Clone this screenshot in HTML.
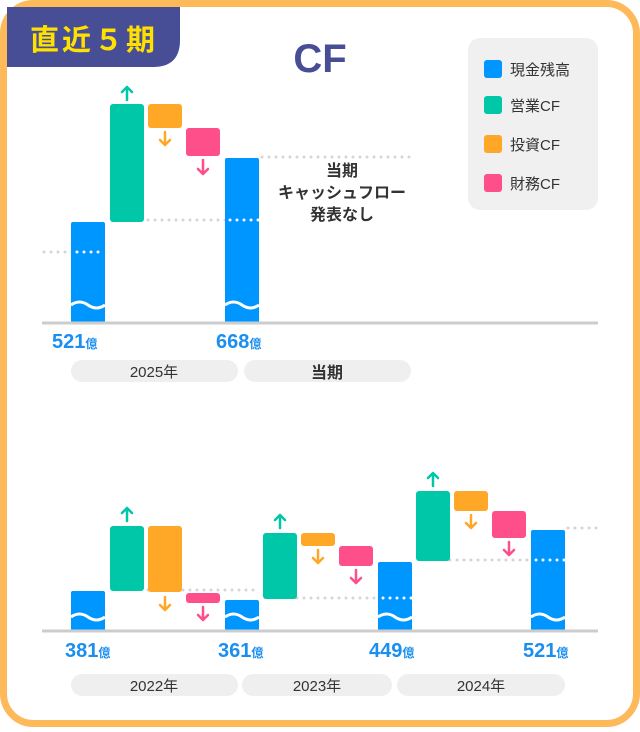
<!DOCTYPE html>
<html><head><meta charset="utf-8"><style>
body{margin:0;background:#fff;}
svg text{font-family:"Liberation Sans","Noto Sans CJK JP",sans-serif;}
</style></head><body>
<svg width="640" height="727" viewBox="0 0 640 727" xmlns="http://www.w3.org/2000/svg">
<rect x="3.5" y="3.5" width="633" height="720" rx="30" fill="#fff" stroke="#FDB95A" stroke-width="7"/>
<path d="M7 7 H180 V40 Q180 67 153 67 H7 Z" fill="#474E95"/>
<path d="M7 37 Q7 7 37 7 H40 V67 H7 Z" fill="#474E95"/>
<text x="94" y="50" text-anchor="middle" font-size="29" font-weight="bold" fill="#FFE000" letter-spacing="3">直近５期</text>
<text x="320" y="72" text-anchor="middle" font-size="40" font-weight="bold" fill="#474E95">CF</text>
<rect x="468" y="38" width="130" height="172" rx="12" fill="#f0f0f0"/>
<g font-size="15" fill="#333">
<rect x="484" y="60" width="18" height="18" rx="3" fill="#0096FF"/><text x="510" y="75">現金残高</text>
<rect x="484" y="96" width="18" height="18" rx="3" fill="#00C7A8"/><text x="510" y="111">営業CF</text>
<rect x="484" y="135" width="18" height="18" rx="3" fill="#FFA726"/><text x="510" y="150">投資CF</text>
<rect x="484" y="174" width="18" height="18" rx="3" fill="#FF4F8B"/><text x="510" y="189">財務CF</text>
</g>
<g stroke="#d6d6d6" stroke-width="3" stroke-linecap="round" stroke-dasharray="0 7" fill="none">
<line x1="44" y1="252" x2="105" y2="252"/>
<line x1="148" y1="220" x2="259" y2="220"/>
<line x1="262" y1="157" x2="412" y2="157"/>
<line x1="148" y1="590" x2="259" y2="590"/>
<line x1="297" y1="598" x2="412" y2="598"/>
<line x1="450" y1="560" x2="565" y2="560"/>
<line x1="568" y1="528" x2="598" y2="528"/>
</g>
<g>
<rect x="71" y="222" width="34" height="101" rx="2" fill="#0096FF"/>
<rect x="110" y="104" width="34" height="118" rx="3" fill="#00C7A8"/>
<rect x="148" y="104" width="34" height="24" rx="3" fill="#FFA726"/>
<rect x="186" y="128" width="34" height="28" rx="3" fill="#FF4F8B"/>
<rect x="225" y="158" width="34" height="165" rx="2" fill="#0096FF"/>
<rect x="71" y="591" width="34" height="40" rx="2" fill="#0096FF"/>
<rect x="110" y="526" width="34" height="65" rx="3" fill="#00C7A8"/>
<rect x="148" y="526" width="34" height="66" rx="3" fill="#FFA726"/>
<rect x="186" y="593" width="34" height="10" rx="3" fill="#FF4F8B"/>
<rect x="225" y="600" width="34" height="31" rx="2" fill="#0096FF"/>
<rect x="263" y="533" width="34" height="66" rx="3" fill="#00C7A8"/>
<rect x="301" y="533" width="34" height="13" rx="3" fill="#FFA726"/>
<rect x="339" y="546" width="34" height="20" rx="3" fill="#FF4F8B"/>
<rect x="378" y="562" width="34" height="69" rx="2" fill="#0096FF"/>
<rect x="416" y="491" width="34" height="70" rx="3" fill="#00C7A8"/>
<rect x="454" y="491" width="34" height="20" rx="3" fill="#FFA726"/>
<rect x="492" y="511" width="34" height="27" rx="3" fill="#FF4F8B"/>
<rect x="531" y="530" width="34" height="101" rx="2" fill="#0096FF"/>
</g>
<g stroke="#fff" stroke-width="3" stroke-linecap="round" stroke-dasharray="0 7" fill="none">
<line x1="77" y1="252" x2="105" y2="252"/>
<line x1="230" y1="220" x2="259" y2="220"/>
<line x1="383" y1="598" x2="412" y2="598"/>
<line x1="536" y1="560" x2="565" y2="560"/>
</g>
<g stroke="#fff" stroke-width="3" fill="none">
<path d="M71 305 q8.5 -6 17 0 t17 0"/><path d="M225 305 q8.5 -6 17 0 t17 0"/>
<path d="M71 617 q8.5 -6 17 0 t17 0"/><path d="M225 617 q8.5 -6 17 0 t17 0"/>
<path d="M378 617 q8.5 -6 17 0 t17 0"/><path d="M531 617 q8.5 -6 17 0 t17 0"/>
</g>
<g stroke-width="2.5" fill="none" stroke-linecap="round" stroke-linejoin="round">
<g stroke="#00C7A8"><path d="M127 100 V87 M122 92 L127 87 L132 92"/><path d="M127 521 V508 M122 513 L127 508 L132 513"/><path d="M280 528 V515 M275 520 L280 515 L285 520"/><path d="M433 486 V473 M428 478 L433 473 L438 478"/></g>
<g stroke="#FFA726"><path d="M165 132 V145 M160 140 L165 145 L170 140"/><path d="M165 597 V610 M160 605 L165 610 L170 605"/><path d="M318 550 V563 M313 558 L318 563 L323 558"/><path d="M471 515 V528 M466 523 L471 528 L476 523"/></g>
<g stroke="#FF4F8B"><path d="M203 160 V174 M198 169 L203 174 L208 169"/><path d="M203 607 V620 M198 615 L203 620 L208 615"/><path d="M356 570 V583 M351 578 L356 583 L361 578"/><path d="M509 542 V555 M504 550 L509 555 L514 550"/></g>
</g>
<line x1="42" y1="323" x2="598" y2="323" stroke="#cccccc" stroke-width="3"/>
<line x1="42" y1="631" x2="598" y2="631" stroke="#cccccc" stroke-width="3"/>
<g font-weight="bold" fill="#333" font-size="16" text-anchor="middle">
<text x="342" y="176">当期</text><text x="342" y="198">キャッシュフロー</text><text x="342" y="220">発表なし</text>
</g>
<g fill="#1A8FF0" font-weight="bold">
<text x="52" y="348" font-size="20">521<tspan font-size="12">億</tspan></text>
<text x="216" y="348" font-size="20">668<tspan font-size="12">億</tspan></text>
<text x="65" y="657" font-size="20">381<tspan font-size="12">億</tspan></text>
<text x="218" y="657" font-size="20">361<tspan font-size="12">億</tspan></text>
<text x="369" y="657" font-size="20">449<tspan font-size="12">億</tspan></text>
<text x="523" y="657" font-size="20">521<tspan font-size="12">億</tspan></text>
</g>
<g fill="#efefef">
<rect x="71" y="360" width="167" height="22" rx="11"/><rect x="244" y="360" width="167" height="22" rx="11"/>
<rect x="71" y="674" width="167" height="22" rx="11"/><rect x="242" y="674" width="150" height="22" rx="11"/><rect x="397" y="674" width="168" height="22" rx="11"/>
</g>
<g fill="#333" font-size="15" text-anchor="middle">
<text x="154" y="377">2025年</text><text x="327" y="378" font-size="16" font-weight="bold">当期</text>
<text x="154" y="691">2022年</text><text x="317" y="691">2023年</text><text x="481" y="691">2024年</text>
</g>
</svg>
</body></html>
